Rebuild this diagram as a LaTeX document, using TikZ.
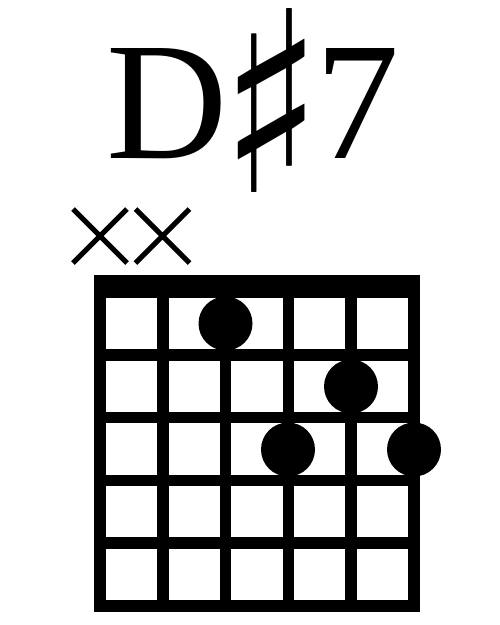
\documentclass[tikz,border=0pt]{standalone}
\usepackage{fontspec}
\setmainfont{Liberation Serif}
\newfontfamily\symfont{DejaVu Sans}

\begin{document}
\begin{tikzpicture}[x=1pt, y=-1pt,
    fretline/.style={line width=11.5pt},
    fingerdot/.style={fill=black},
    mutedmark/.style={line width=5pt}]
  \useasboundingbox (0,0) rectangle (500,625);

  % chord name
  \node[anchor=base west, inner sep=0pt, font=\fontsize{168}{168}\selectfont] (title) at (106,158)
    {D\kern-7pt\raisebox{-34pt}{\resizebox*{102pt}{184pt}{\raisebox{\depth}{\symfont\bfseries ♯}}}\kern-7pt 7};

  % nut and grid
  \fill (94,275) rectangle (420,298);
  \foreach \s in {0,...,5}
    \draw[fretline] (100+\s*62.8,275) -- (100+\s*62.8,612);
  \foreach \f in {1,...,5}
    \draw[fretline] (94,292+\f*62.8) -- (420,292+\f*62.8);

  % muted strings
  \foreach \s in {0,1}
    \draw[mutedmark] (73+\s*62.5,209) -- (127+\s*62.5,263)
                     (73+\s*62.5,263) -- (127+\s*62.5,209);

  % fingers
  \foreach \x/\y in {225.5/323.5, 351/386.5, 288/449.5, 414/449.5}
    \fill[fingerdot] (\x,\y) circle (27);
\end{tikzpicture}
\end{document}
